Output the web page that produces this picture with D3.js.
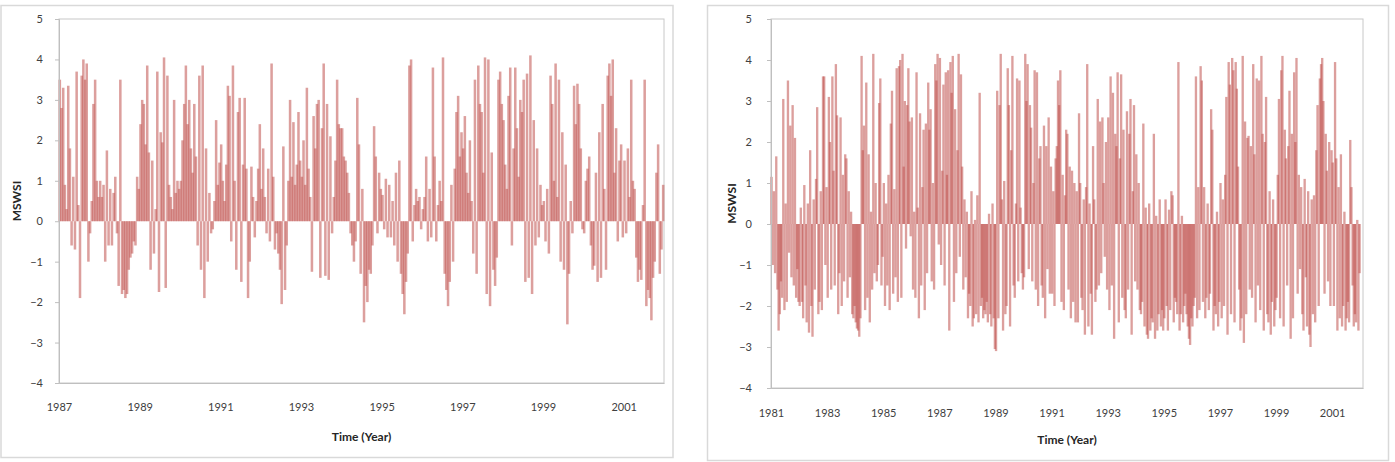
<!DOCTYPE html>
<html>
<head>
<meta charset="utf-8">
<script src="https://cdn.jsdelivr.net/npm/d3@7"></script>
<style>
    body { margin: 0; background: #fff; }
    text { font-family: Lato, "Open Sans", sans-serif; }
</style>
</head>
<body>
<div id="chart"></div>
<script>

// y axis ticks (same for both panels)
const yTicks = [-4, -3, -2, -1, 0, 1, 2, 3, 4, 5];

// left panel: half-monthly MSWSI, 1987 - 2001
const leftStart = 1987;
const leftTicks = [1987, 1989, 1991, 1993, 1995, 1997, 1999, 2001];
const leftValues = [
    3.5, 2.8, 3.3, 0.9, 0.3, 3.35, 1.8, -0.6, 1.1, -0.7, 3.7, 0.4, -1.9, 3.6, 4.0, 3.5, 3.9, -1.0, -0.3, 0.5, 2.9, 3.5, 1.0, 0.6,
    1.0, 0.6, 0.9, -1.0, 1.75, -0.6, 0.8, -0.6, 0.7, 1.1, -0.3, -1.6, 3.5, -1.8, -1.7, -1.9, -1.8, -1.2, -0.9, -0.8, -0.5, -0.6, 1.1, 0.8,
    2.4, 3.0, 2.9, 1.9, 3.85, 1.7, -1.2, 1.5, -0.8, 0.3, 3.7, -1.75, 2.2, 1.95, 4.05, -1.65, 3.6, 0.9, 0.6, 0.3, 3.0, 0.7, 1.0, 0.8,
    1.0, 2.0, 2.9, 3.85, 2.4, 3.0, 1.8, 1.2, 2.9, 1.6, -0.6, 3.6, -1.2, 3.85, -1.9, 1.8, -1.0, 0.7, -0.3, -0.2, 0.5, 2.5, 0.9, 1.45,
    1.9, 1.0, 0.5, 1.4, 3.35, 3.1, -0.5, 3.85, 1.0, -1.2, 2.7, 3.05, -1.5, 1.4, 3.05, 1.3, -1.9, -1.0, 1.35, 0.6, -0.4, 0.5, 1.3, 2.4,
    0.8, 1.8, 0.6, -0.3, 1.3, -0.5, 3.9, 1.1, -0.7, -0.3, -0.8, -1.2, -2.05, 1.85, -1.7, -0.6, 1.0, 3.0, 1.1, 2.45, 0.9, 1.4, 2.7, 1.5,
    1.1, 2.0, 0.9, 3.3, 1.3, 0.6, -1.25, 2.6, 1.8, 2.9, 3.0, -1.4, 2.3, 3.9, -1.35, 2.9, -1.45, 2.1, -0.3, 0.6, 1.5, 3.5, 2.4, 2.3,
    2.3, 1.6, 1.5, 1.2, 0.7, -0.3, -0.6, -1.0, -0.5, 3.05, 1.9, -1.3, 0.8, -2.5, -1.6, -2.0, -1.2, -1.3, -0.6, 2.35, 1.6, -0.3, 1.2, 0.8,
    0.65, -0.2, 1.05, -0.4, 0.9, -0.4, 0.5, -0.6, 1.2, -1.0, 1.5, -1.3, -1.8, -2.3, -1.5, -0.8, 3.85, 4.0, -0.5, 0.4, 0.8, 0.5, 0.6, -0.2,
    0.3, 0.6, 1.6, -0.5, 0.8, -0.4, 3.8, 1.6, -0.5, 0.4, 1.0, 0.5, 4.05, -1.3, -1.7, -2.1, -1.5, 0.9, -1.0, 1.3, 2.7, 3.1, 1.6, 2.2,
    1.8, 2.6, 1.2, 0.7, 2.0, 0.5, -0.8, 3.5, -1.3, 3.85, 2.9, 2.7, 1.2, 4.05, -1.8, 4.0, -2.1, 1.7, -1.2, -1.6, -0.9, 3.5, 3.7, 2.9,
    2.5, 1.4, 0.8, 3.1, 3.8, -0.6, 1.8, 3.8, 2.3, 1.1, 3.0, 2.7, 3.5, -1.5, 3.65, -1.4, 4.1, -1.8, 2.5, -0.6, 1.8, -0.4, 0.9, 0.4,
    0.5, -0.5, 0.8, -0.8, 3.6, 2.9, 1.0, 3.9, 0.6, 3.5, -1.0, 2.2, -1.2, 1.4, -2.55, -1.3, 0.5, -0.3, 3.35, 2.4, 3.4, 2.9, 1.8, -0.2,
    -0.3, 1.0, 1.3, 1.6, -0.6, -1.2, -1.1, 1.2, -1.5, 2.2, -1.4, 2.9, 0.8, -1.2, 3.6, 3.9, 3.1, 4.0, 1.2, 2.3, -0.5, 1.5, 1.9, -0.4,
    1.5, -0.3, 1.8, 0.6, 3.5, 1.0, 0.8, -0.9, -1.5, -1.2, -1.45, 0.4, 3.5, -2.1, -1.7, -1.9, -2.45, -1.4, -1.0, 1.2, 1.9, -1.3, -0.7, 0.9
];

// right panel: half-monthly MSWSI, 1981 - 2001
const rightStart = 1981;
const rightTicks = [1981, 1983, 1985, 1987, 1989, 1991, 1993, 1995, 1997, 1999, 2001];
const rightValues = [
    1.15, -1.0, 0.8, -1.2, 1.65, -1.6, -2.6, -2.2, -1.4, -1.8, 3.05, -2.1, 0.5, -1.9, 3.5, -0.7, 2.4, -1.3, 2.9, -1.5, 2.1, -1.8, -1.1, -1.9,
    -2.0, 0.4, -1.9, -2.3, 0.95, -1.5, -2.4, 0.5, -2.65, 1.8, -2.0, -2.75, 0.6, -1.6, 1.1, 2.85, -2.2, -1.9, 0.8, -2.1, 3.6, 3.6, -1.0, 0.9,
    -1.8, 3.1, 2.0, -1.6, 3.6, 1.3, -1.5, 3.9, 2.65, -2.2, -1.2, 2.6, -2.0, 1.2, -1.4, 1.7, 1.6, -1.8, 0.8, -1.3, 0.3, -2.2, -2.3, -2.0,
    -2.4, -2.55, -2.6, -2.75, -2.3, 4.1, 1.8, 2.4, -2.1, 3.45, -1.8, 1.7, -2.4, 0.3, -1.6, 4.15, -1.2, 1.0, -1.4, -1.0, 2.95, 3.55, -1.5, -0.8,
    1.0, -2.0, 0.5, -1.5, 1.2, -2.1, 2.45, 3.25, -1.7, 0.85, -1.3, 3.8, -1.9, 3.85, 4.0, -1.8, 4.15, 1.4, 3.0, -0.6, 2.9, 3.8, 2.5, -0.3,
    2.6, -1.6, 0.3, -1.8, 3.7, 0.4, -2.3, 2.7, -1.5, 0.9, 2.3, -2.1, 2.45, -1.2, 3.45, 2.3, 2.8, -1.4, 1.0, -1.6, 3.9, 3.5, 4.15, -0.5,
    4.05, -1.0, 1.3, 3.4, -1.5, 3.7, 1.2, 3.75, -2.6, 3.95, 3.2, 4.1, -1.9, 2.8, -1.2, 1.8, 4.15, -0.8, 3.65, 1.4, -1.6, 0.6, -1.3, 0.3,
    -2.3, -1.7, -2.0, 0.8, -2.5, -2.3, 0.1, -2.2, 0.7, -2.4, 3.2, -2.0, -1.8, -2.3, -2.1, -2.2, -1.9, -2.4, 0.25, -2.2, -2.5, 0.5, -2.3, -3.05,
    -3.1, 3.25, -2.3, 2.9, 4.15, 0.6, -2.6, 1.05, -2.2, -2.0, 3.8, 2.9, -2.5, 1.8, 4.1, -1.5, -1.8, 0.5, 3.55, -1.4, 3.5, 0.4, -1.2, -1.6,
    -1.3, 4.15, 3.0, 3.9, -1.1, 2.9, 2.35, -1.4, 1.0, 3.75, -1.6, 3.7, -2.0, 1.6, 1.9, -1.5, -1.8, 2.4, -2.3, 1.9, -1.1, 2.6, -1.7, 1.4,
    -1.7, 0.8, -2.0, 1.6, 1.9, 3.5, 2.9, 3.75, -1.9, 1.2, -2.1, 0.7, 2.3, 2.2, -1.6, 1.4, -2.3, 1.3, -1.9, 1.0, -2.4, 0.8, -2.4, 2.7,
    1.0, -1.8, -2.1, 0.6, -2.7, 0.9, 3.9, -2.5, 0.5, -1.7, -2.7, 1.9, 0.6, -1.9, -1.6, 3.05, -1.5, 2.5, -1.2, 2.6, 1.0, -0.8, 2.0, -1.6,
    2.6, -2.1, 3.6, -1.5, 3.2, -2.8, 2.2, 1.9, 3.7, -2.4, 1.6, 3.65, -1.8, 2.3, -2.1, -2.3, 2.75, -1.6, 2.2, 3.05, -2.7, 0.8, 2.9, -1.4,
    1.7, -1.6, 1.0, -2.1, -2.2, -1.9, 2.45, -2.5, 0.4, -2.7, -2.8, 0.5, -2.6, -2.3, -2.4, 2.2, -2.8, 0.2, -2.6, -2.2, 0.6, -2.5, -2.1, -2.6,
    -2.3, 0.6, -2.0, -2.6, 0.35, -2.1, 0.8, 0.7, -2.4, -1.8, -1.9, -2.2, 3.95, -2.6, -2.2, 0.2, -2.4, -2.0, -1.7, -2.2, -2.5, -2.8, -2.95, -2.3,
    -2.5, -2.0, -1.8, 3.6, -2.3, 0.9, -2.1, 3.85, 3.5, -1.9, 0.9, -2.3, -1.8, 0.5, -2.1, -1.7, 2.8, 2.3, -2.6, -2.0, -2.2, 0.3, -2.5, -1.9,
    1.0, -2.3, 0.6, -2.0, 1.2, 3.1, -2.7, 3.95, 3.4, -2.2, 4.05, 3.75, -2.4, 3.95, 3.3, 1.4, -1.6, -2.6, -2.3, 4.1, -2.9, 2.5, -2.2, 2.1,
    2.15, -1.6, 1.9, -1.8, 3.9, 1.7, -2.4, 3.55, -1.5, 3.5, -2.1, 4.1, 2.2, -2.6, 2.0, 3.1, -2.2, -2.4, 0.8, -2.7, -1.9, 0.6, -2.5, -2.1,
    -1.8, 1.2, 3.05, -2.3, 3.75, 4.1, -2.5, 2.3, 1.6, -1.5, 1.9, 3.25, -2.8, 2.2, -2.3, 3.7, 2.0, 4.05, -1.7, 1.2, -1.1, 0.9, -2.2, -2.6,
    1.1, -1.3, -2.5, 0.8, -2.7, -3.0, 0.6, -2.2, 0.7, -2.4, 1.8, 2.9, -2.0, 3.55, 3.9, 4.05, 3.0, -1.7, 2.2, 1.3, -1.4, 2.0, -2.0, 1.8,
    1.5, -2.0, 3.95, 1.6, -2.6, 0.9, -2.3, 1.7, -2.5, -2.0, 0.3, -2.6, -2.3, -1.9, -2.4, 2.05, 0.9, -1.5, -2.5, -2.2, -2.4, 0.1, -2.6, -1.2
];

const svg = d3.select("#chart").append("svg")
    .attr("width", 1395)
    .attr("height", 462);

class MswsiPanel {

    constructor(svg, cfg) {
        this._svg = svg;
        this._cfg = cfg;
        this.initVis();
    }

    initVis() {
        let vis = this;
        let c = vis._cfg;

        // outer chart frame
        vis._svg.append("rect")
            .attr("x", c.frame[0]).attr("y", c.frame[1])
            .attr("width", c.frame[2]).attr("height", c.frame[3])
            .attr("fill", "#fff")
            .attr("stroke", "#d9d9d9")
            .attr("stroke-width", 1.5);

        vis.x = d3.scaleLinear()
            .domain([c.start, c.end])
            .range([c.left, c.right]);

        vis.y = d3.scaleLinear()
            .domain([-4, 5])
            .range([c.bottom, c.top]);

        // plot area border
        vis._svg.append("rect")
            .attr("x", c.left).attr("y", c.top)
            .attr("width", c.right - c.left).attr("height", c.bottom - c.top)
            .attr("fill", "none")
            .attr("stroke", "#c8c8c8")
            .attr("stroke-width", 1);

        let step = vis.x(c.start + 1 / 24) - vis.x(c.start);
        let bw = step * c.barScale;

        // bars overlap a little; overlaps build the darker cores
        vis._svg.append("g")
            .selectAll("rect")
            .data(c.values)
            .join("rect")
            .attr("x", (d, i) => vis.x(c.start + i / 24) - bw / 2 + step / 2)
            .attr("width", bw)
            .attr("y", d => Math.min(vis.y(d), vis.y(0)))
            .attr("height", d => Math.abs(vis.y(d) - vis.y(0)))
            .attr("fill", "#c0504d")
            .attr("fill-opacity", c.barOpacity);

        // y axis
        let yAxis = d3.axisLeft(vis.y)
            .tickValues(yTicks)
            .tickSize(4)
            .tickPadding(c.yPad)
            .tickFormat(d3.format("d"));

        let gy = vis._svg.append("g")
            .attr("transform", "translate(" + c.left + ",0)")
            .call(yAxis);
        gy.select(".domain").attr("stroke", "#bfbfbf");
        gy.selectAll(".tick line").attr("stroke", "#bfbfbf");
        gy.selectAll("text").attr("fill", "#404040").style("font-size", "11px");

        // x axis labels only (line is the plot border)
        let xAxis = d3.axisBottom(vis.x)
            .tickValues(c.ticks)
            .tickSize(0)
            .tickPadding(c.xPad)
            .tickFormat(d3.format("d"));

        let gx = vis._svg.append("g")
            .attr("transform", "translate(0," + c.bottom + ")")
            .call(xAxis);
        gx.select(".domain").attr("stroke", "#bfbfbf");
        gx.selectAll("text").attr("fill", "#404040").style("font-size", "11px");

        // axis titles
        vis._svg.append("text")
            .attr("x", (c.left + c.right) / 2)
            .attr("y", c.xTitleY)
            .attr("text-anchor", "middle")
            .attr("fill", "#262626")
            .style("font-size", "12px")
            .style("font-weight", "bold")
            .text("Time (Year)");

        vis._svg.append("text")
            .attr("transform", "translate(" + c.yTitleX + "," + ((c.top + c.bottom) / 2) + ") rotate(-90)")
            .attr("text-anchor", "middle")
            .attr("fill", "#262626")
            .style("font-size", "12px")
            .style("font-weight", "bold")
            .text("MSWSI");
    }
}

new MswsiPanel(svg, {
    frame: [1, 5.5, 672, 452],
    start: leftStart, end: leftStart + leftValues.length / 24,
    left: 59, right: 664, top: 19, bottom: 383,
    values: leftValues, ticks: leftTicks,
    barScale: 1.5, barOpacity: 0.55,
    yPad: 12, xPad: 20, xTitleY: 441, yTitleX: 21
});

new MswsiPanel(svg, {
    frame: [707.5, 5.5, 681, 455],
    start: rightStart, end: rightStart + rightValues.length / 24 + 0.1,
    left: 771, right: 1363, top: 19, bottom: 388,
    values: rightValues, ticks: rightTicks,
    barScale: 2.0, barOpacity: 0.55,
    yPad: 15, xPad: 21, xTitleY: 444, yTitleX: 736
});

</script>
</body>
</html>
